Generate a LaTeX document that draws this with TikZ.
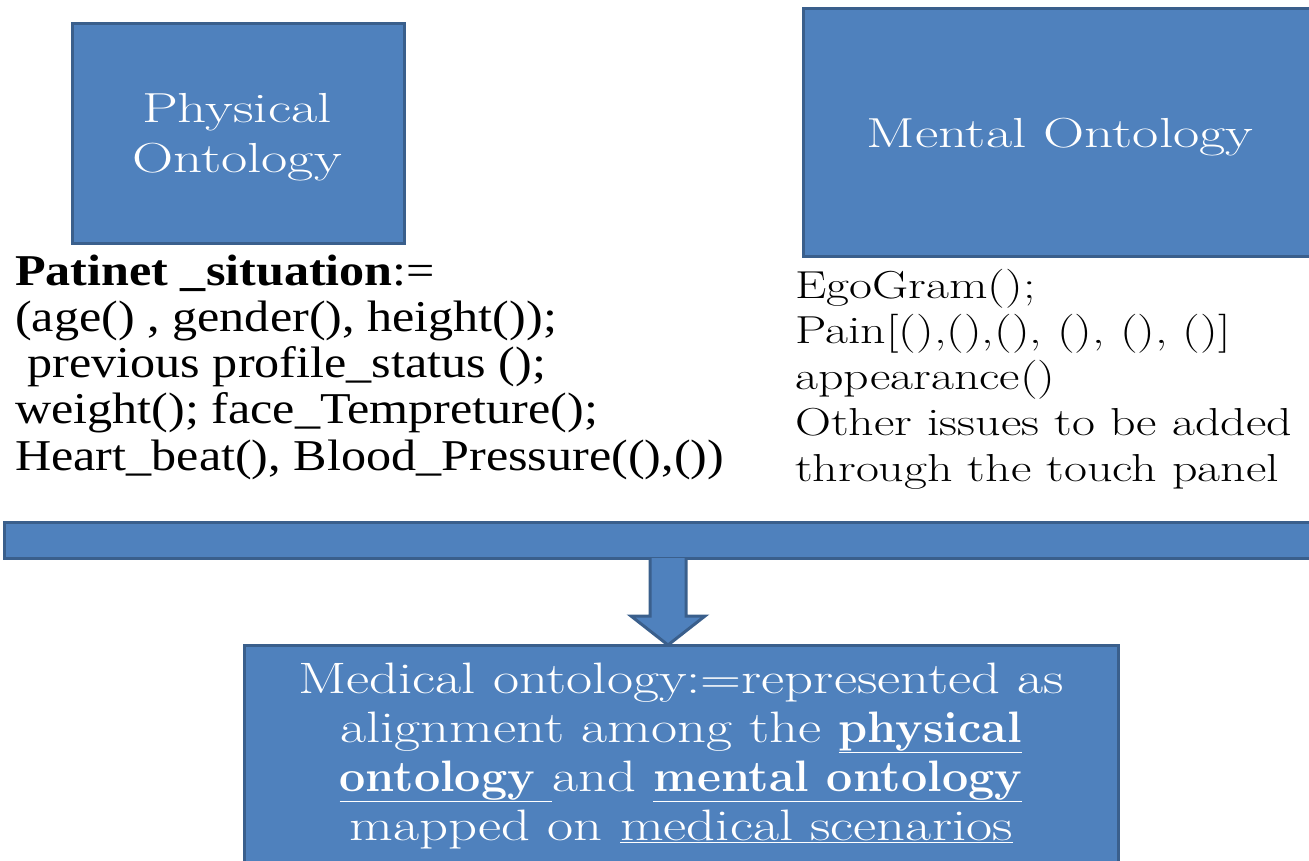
\documentclass[tikz,border=0pt]{standalone}
\usepackage{fontspec}
\newfontfamily\boxfont[FakeStretch=1.36]{Latin Modern Roman}
\newfontfamily\medfont[FakeStretch=1.29, BoldFeatures={FakeStretch=1.06}]{Latin Modern Roman}
\newfontfamily\listfont[FakeStretch=1.28]{Latin Modern Roman}
\newfontfamily\leftfont[FakeStretch=1.14]{Liberation Serif}
\definecolor{boxfill}{HTML}{4F81BD}
\definecolor{boxline}{HTML}{3A5F8C}
\tikzset{
  panel/.style={fill=boxfill, draw=boxline, line width=3pt},
  paneltext/.style={text=white, inner sep=0pt, align=center},
  listtext/.style={text=black, inner sep=0pt, align=left, anchor=base west},
}
\begin{document}
\begin{tikzpicture}[x=1pt, y=-1pt]
\useasboundingbox (0,0) rectangle (1309,860);

% upper concept boxes (nodes are placed by the baseline of their last line)
\draw[panel] (72,23) rectangle (404,243);
\draw[panel] (803,8) rectangle (1330,256);
\node[paneltext, anchor=base, font=\boxfont\fontsize{42}{50}\selectfont] (phys) at (237,172)
  {Physical\\Ontology};
\node[paneltext, anchor=base, font=\boxfont\fontsize{42}{50}\selectfont] (ment) at (1060,147)
  {Mental Ontology};

% attribute lists
\node[listtext, font=\leftfont\fontsize{44}{46.25}\selectfont] (plist) at (15,470)
  {\textbf{Patinet \_situation}:=\\
   (age() , gender(), height());\\
   \ previous profile\_status ();\\
   weight(); face\_Tempreture();\\
   Heart\_beat(), Blood\_Pressure((),())};
\node[listtext, font=\listfont\fontsize{39}{45.75}\selectfont] (mlist) at (795,481)
  {EgoGram();\\
   Pain[(),(),(), (), (), ()]\\
   appearance()\\
   Other issues to be added\\
   through the touch panel};

% merging bar and block arrow
\draw[panel] (4,522) rectangle (1330,558);
\coordinate (tip) at (668,645);
\draw[panel, line join=miter]
  (650,558) -- (650,616) -- (631,616) -- (tip) -- (705,616) -- (686,616) -- (686,558);

% result box
\draw[panel] (244,645) rectangle (1118,880);
\node[paneltext, anchor=base, font=\medfont\fontsize{44}{49}\selectfont] (med) at (681,840)
  {Medical ontology:=represented as\\
   alignment among the \underline{\textbf{physical}}\\
   \underline{\textbf{ontology}\ }and \underline{\textbf{mental ontology}}\\
   mapped on \underline{medical scenarios}};
\end{tikzpicture}
\end{document}
